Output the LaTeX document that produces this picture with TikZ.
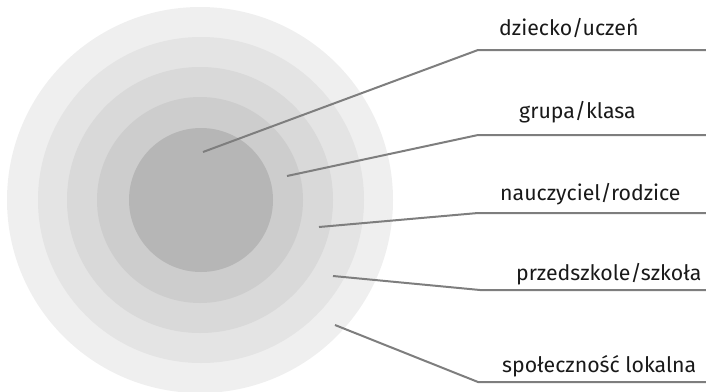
\documentclass[tikz,border=0pt]{standalone}
\usepackage{fontspec}
\setmainfont{Fira Sans}
\usepackage{xcolor}
\usepackage{tikz}
\usetikzlibrary{positioning}

\definecolor{ring1}{HTML}{EFEFEF}
\definecolor{ring2}{HTML}{E4E4E4}
\definecolor{ring3}{HTML}{D9D9D9}
\definecolor{ring4}{HTML}{CDCDCD}
\definecolor{ring5}{HTML}{B6B6B6}
\definecolor{pointer}{HTML}{7E7E7E}

\begin{document}
\begin{tikzpicture}[x=1pt, y=-1pt,
    lbl/.style={anchor=base west, inner sep=0pt, font=\fontsize{21.3}{25}\selectfont, text=black!90},
    leader/.style={draw=pointer, line width=2pt}]
    \useasboundingbox (0,0) rectangle (706,391);

    % Rings
    \fill[ring1] (200,200) circle (193);
    \fill[ring2] (201,200) circle (163);
    \fill[ring3] (200,200) circle (133);
    \fill[ring4] (200,200) circle (103);
    \fill[ring5] (201,200) circle (72);

    % Labels
    \node[lbl] (child) at (499,35) {dziecko/uczeń};
    \node[lbl] (group) at (519,118) {grupa/klasa};
    \node[lbl] (teacher) at (500,200) {nauczyciel/rodzice};
    \node[lbl] (school) at (516,280) {przedszkole/szkoła};
    \node[lbl] (local) at (502,372) {społeczność lokalna};

    % Leader lines
    \coordinate (p1) at (203,152);
    \coordinate (p2) at (287,176);
    \coordinate (p3) at (319,227);
    \coordinate (p4) at (333,276);
    \coordinate (p5) at (335,325);
    \coordinate (k1) at (478,50);
    \coordinate (k2) at (478,135);
    \coordinate (k3) at (478,213);
    \coordinate (k4) at (480,290);
    \coordinate (k5) at (478,382);
    \foreach \i in {1,...,5}
        \draw[leader] (p\i) -- (k\i) -- (k\i -| 706,0);
\end{tikzpicture}
\end{document}
